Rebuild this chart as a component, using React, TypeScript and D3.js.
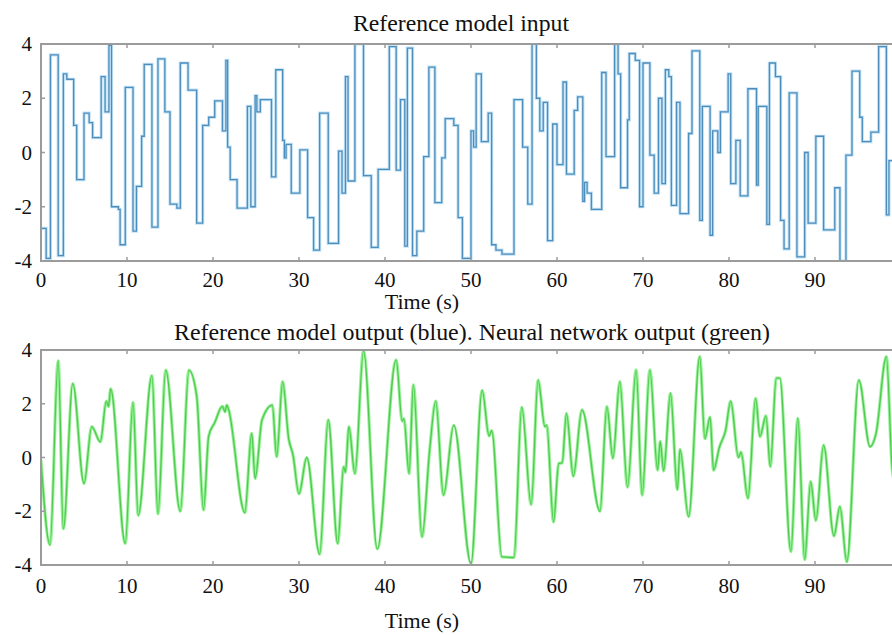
import React from "react";
import * as d3 from "d3";

// Piecewise-constant reference input: each value holds from its start time until the next one.
const stepTimes = [
  0, 0.6, 1.1, 2.0, 2.6, 3.0, 3.8, 4.15, 5.0, 5.6, 6.0, 7.0, 7.45, 7.9, 8.2, 9.0, 9.2, 9.8,
  10.7, 11.1, 11.7, 12.0, 12.9, 13.6, 14.4, 15.0, 15.8, 16.2, 17.1, 18.1, 18.8, 19.5, 20.2,
  21.1, 21.5, 21.7, 22.0, 22.8, 24.0, 24.4, 24.9, 25.1, 25.5, 26.8, 27.3, 28.1, 28.3, 28.5,
  29.1, 30.1, 31.0, 31.7, 32.4, 33.4, 34.6, 35.0, 35.4, 35.7, 36.5, 37.5, 38.4, 39.2, 40.5,
  41.3, 41.8, 42.3, 42.6, 43.2, 43.7, 44.5, 45.1, 45.8, 46.6, 47.0, 48.0, 48.5, 49.0, 50.0,
  50.3, 50.6, 51.2, 52.0, 52.4, 52.9, 53.6, 55.0, 56.0, 56.6, 57.1, 57.6, 58.0, 58.4, 58.9,
  59.5, 60.0, 60.7, 61.1, 62.0, 62.4, 63.0, 63.2, 63.5, 64.0, 65.2, 65.7, 66.7, 67.1, 67.4,
  68.2, 68.4, 69.1, 69.6, 70.0, 70.8, 71.3, 71.8, 72.2, 72.6, 73.0, 73.3, 73.9, 74.3, 75.3,
  75.7, 76.6, 76.9, 77.8, 78.1, 78.7, 79.0, 79.9, 80.2, 80.8, 81.3, 82.2, 83.2, 83.4, 84.4,
  84.7, 85.4, 86.0, 86.4, 87.0, 87.9, 88.8, 89.2, 90.1, 91.0, 92.3, 92.9, 93.6, 94.3, 95.2,
  95.5, 96.5, 97.4, 98.3, 98.6, 100,
];
const stepValues = [
  -2.8, -3.9, 3.6, -3.8, 2.9, 2.7, 1.0, -1.0, 1.45, 1.1, 0.55, 2.8, 1.5, 3.95, -2.0, -2.1, -3.4, 2.4,
  -2.9, -1.25, 0.6, 3.25, -2.75, 3.45, 1.5, -1.9, -2.05, 3.3, 2.3, -2.6, 1.0, 1.3, 1.9,
  0.8, 3.4, 0.2, -1.0, -2.05, 1.7, -2.0, 2.1, 1.5, 1.95, -0.9, 3.05, 0.45, -0.2, 0.3,
  -1.5, 0.1, -2.4, -3.6, 1.45, -3.35, 0.05, -1.5, 2.8, -1.05, 4.0, -0.85, -3.5, -0.62, 3.9,
  -0.65, 1.95, -3.45, 3.85, -3.8, -2.9, -0.15, 3.15, -1.85, -0.2, 1.25, 1.0, -2.4, -3.9, 0.8,
  0.2, 2.9, 0.4, 1.45, -3.4, -3.6, -3.75, 1.95, 0.2, -1.9, 4.0, 2.0, 0.8, 1.85, -3.25,
  1.05, -0.45, 2.6, -0.8, 1.55, 2.05, -1.8, -1.1, -1.5, -2.1, 2.95, -0.15, 4.0, 2.9, -1.3,
  1.2, 3.65, 3.4, -2.0, 3.3, -0.1, -1.5, 2.0, -1.15, 3.05, 2.8, -1.95, 1.85, -2.25, 0.7,
  3.75, -2.5, 1.7, -3.05, 0.8, 0.0, 1.5, 2.9, -1.15, 0.45, -1.6, 2.35, -1.2, 1.7, -2.65,
  3.3, 2.8, -2.5, -3.55, 2.2, -3.85, 0.0, -2.6, 0.6, -2.85, -1.3, -4.0, -0.1, 3.0, 1.3,
  0.4, 0.75, 3.9, -2.3, -0.3, -0.3,
];

// Smooth network output, sampled at its turning points.
const outTimes = [
  0, 1.05, 2.0, 2.6, 3.7, 5.0, 5.9, 6.9, 7.6, 7.85, 8.1, 9.8, 10.7, 11.3, 12.9, 13.6, 14.5,
  16.2, 17.2, 18.1, 18.9, 19.5, 20.2, 21.1, 21.4, 21.6, 21.8, 23.7, 24.5, 24.9, 25.7, 26.9,
  27.4, 28.1, 28.8, 29.3, 30.0, 30.9, 32.4, 33.4, 34.5, 35.2, 35.4, 35.8, 36.5, 37.5, 39.1,
  41.3, 42.0, 42.2, 42.8, 43.3, 44.3, 45.2, 45.9, 46.8, 48.0, 50.0, 51.3, 52.1, 52.4, 53.6,
  55.0, 55.9, 57.0, 57.8, 58.6, 58.8, 59.6, 60.2, 60.6, 61.1, 61.9, 62.9, 65.0, 65.8, 66.5,
  67.3, 68.2, 69.2, 69.9, 70.8, 71.7, 72.0, 72.4, 73.2, 74.0, 74.3, 75.3, 76.6, 77.2, 77.8,
  78.2, 78.9, 79.6, 80.2, 81.1, 81.4, 82.2, 83.1, 83.6, 84.3, 84.8, 85.5, 85.9, 87.2, 88.0,
  88.8, 89.5, 90.1, 91.0, 92.2, 92.9, 93.7, 95.1, 96.4, 97.1, 98.3, 99.0, 100,
];
const outValues = [
  -0.1, -3.25, 3.6, -2.65, 2.75, -0.97, 1.15, 0.58, 2.1, 1.9, 2.55, -3.2, 2.05, -2.15, 3.05, -2.1, 3.25,
  -2.0, 3.25, 2.3, -1.95, 0.8, 1.3, 1.9, 1.7, 1.95, 1.8, -2.05, 0.9, -0.78, 1.4, 1.95,
  0.03, 2.82, 0.7, 0.1, -1.35, 0.0, -3.6, 1.4, -3.2, -0.35, -0.55, 1.15, -0.6, 3.97, -3.4,
  3.63, 1.35, 1.45, -0.6, 2.7, -2.95, 0.3, 2.1, -1.4, 1.2, -3.95, 2.5, 0.8, 1.0, -3.7,
  -3.72, 1.87, -1.75, 2.88, 1.15, 1.2, -2.4, -0.22, -0.2, 1.64, -0.7, 1.77, -2.0, 1.89, -0.03,
  2.82, -1.1, 3.26, -1.4, 3.26, -0.47, 0.6, -0.5, 2.39, -1.2, 0.3, -2.2, 3.75, 0.7, 1.5,
  -0.47, 0.4, 1.0, 2.1, 0.0, 0.2, -1.52, 2.2, 0.78, 1.55, -0.34, 2.95, 2.95, -3.5, 1.46,
  -3.8, -0.9, -2.35, 0.46, -2.92, -1.83, -3.88, 2.88, 0.4, 0.9, 3.75, -0.5, -1.6,
];

const xTicks = [0, 10, 20, 30, 40, 50, 60, 70, 80, 90];
const yTicks = [-4, -2, 0, 2, 4];
const topTitle = "Reference model input";
const bottomTitle = "Reference model output (blue). Neural network output (green)";
const xLabel = "Time (s)";

const W = 892;
const H = 635;
const FONT = "'Liberation Serif', 'Times New Roman', serif";
const FRAME = "#9b9b9b";

type Panel = {
  top: number;
  bottom: number;
  title: string;
  titleX: number;
  titleLen: number;
  titleY: number;
  tickY: number;
  labelY: number;
};

const xScale = d3.scaleLinear().domain([0, 100]).range([41, 901]);

function Frame({ p, children }: { p: Panel; children?: React.ReactNode }) {
  const y = d3.scaleLinear().domain([-4, 4]).range([p.bottom, p.top]);
  const [x0, x1] = xScale.range();
  return (
    <g>
      <rect x={x0} y={p.top} width={x1 - x0} height={p.bottom - p.top} fill="#fff" />
      {children}
      <rect
        x={x0}
        y={p.top}
        width={x1 - x0}
        height={p.bottom - p.top}
        fill="none"
        stroke={FRAME}
        strokeWidth={2}
      />
      {xTicks.map((t) => (
        <g key={t}>
          <line x1={xScale(t)} x2={xScale(t)} y1={p.top} y2={p.top + 4} stroke={FRAME} strokeWidth={1.5} />
          <line x1={xScale(t)} x2={xScale(t)} y1={p.bottom} y2={p.bottom - 4} stroke={FRAME} strokeWidth={1.5} />
          <text x={xScale(t)} y={p.tickY} textAnchor="middle" fontSize={21} fontFamily={FONT} fill="#111">
            {t}
          </text>
        </g>
      ))}
      {yTicks.map((v) => (
        <g key={v}>
          <line x1={x0} x2={x0 + 4} y1={y(v)} y2={y(v)} stroke={FRAME} strokeWidth={1.5} />
          <text x={32} y={y(v) + 7} textAnchor="end" fontSize={21} fontFamily={FONT} fill="#111">
            {v}
          </text>
        </g>
      ))}
      <text
        x={p.titleX}
        y={p.titleY}
        textAnchor="middle"
        fontSize={24}
        fontFamily={FONT}
        fill="#111"
        textLength={p.titleLen}
        lengthAdjust="spacingAndGlyphs"
      >
        {p.title}
      </text>
      <text x={422} y={p.labelY} textAnchor="middle" fontSize={22} fontFamily={FONT} fill="#111">
        {xLabel}
      </text>
    </g>
  );
}

const topPanel: Panel = {
  top: 44,
  bottom: 261,
  title: topTitle,
  titleX: 461,
  titleLen: 216,
  titleY: 31,
  tickY: 287,
  labelY: 309,
};
const bottomPanel: Panel = {
  top: 350,
  bottom: 565,
  title: bottomTitle,
  titleX: 472,
  titleLen: 596,
  titleY: 340,
  tickY: 593,
  labelY: 628,
};

export default function App() {
  const yTop = d3.scaleLinear().domain([-4, 4]).range([topPanel.bottom, topPanel.top]);
  const yBot = d3.scaleLinear().domain([-4, 4]).range([bottomPanel.bottom, bottomPanel.top]);

  const stepData = stepTimes.map((t, i) => [t, stepValues[i]] as [number, number]);
  const outData = outTimes.map((t, i) => [t, outValues[i]] as [number, number]);

  const stepLine = d3
    .line<[number, number]>()
    .x((d) => xScale(d[0]))
    .y((d) => yTop(d[1]))
    .curve(d3.curveStepAfter);
  const outLine = d3
    .line<[number, number]>()
    .x((d) => xScale(d[0]))
    .y((d) => yBot(d[1]))
    .curve(d3.curveMonotoneX);

  const sPath = stepLine(stepData) || "";
  const oPath = outLine(outData) || "";

  return (
    <svg
      width={W}
      height={H}
      style={{ position: "absolute", left: 0, top: 0, background: "#fff" }}
    >
      <defs>
        <clipPath id="clipTop">
          <rect x={41} y={topPanel.top} width={860} height={topPanel.bottom - topPanel.top} />
        </clipPath>
        <clipPath id="clipBot">
          <rect x={41} y={bottomPanel.top} width={860} height={bottomPanel.bottom - bottomPanel.top} />
        </clipPath>
      </defs>
      <Frame p={topPanel}>
        <g clipPath="url(#clipTop)">
          <path d={sPath} fill="none" stroke="#b3dbf4" strokeWidth={3.2} strokeOpacity={0.8} />
          <path d={sPath} fill="none" stroke="#4d8dbb" strokeWidth={1.3} />
        </g>
      </Frame>
      <Frame p={bottomPanel}>
        <g clipPath="url(#clipBot)">
          <path d={oPath} fill="none" stroke="#86ee86" strokeWidth={3.2} strokeOpacity={0.85} />
          <path d={oPath} fill="none" stroke="#4fca4f" strokeWidth={1.3} />
        </g>
      </Frame>
    </svg>
  );
}
